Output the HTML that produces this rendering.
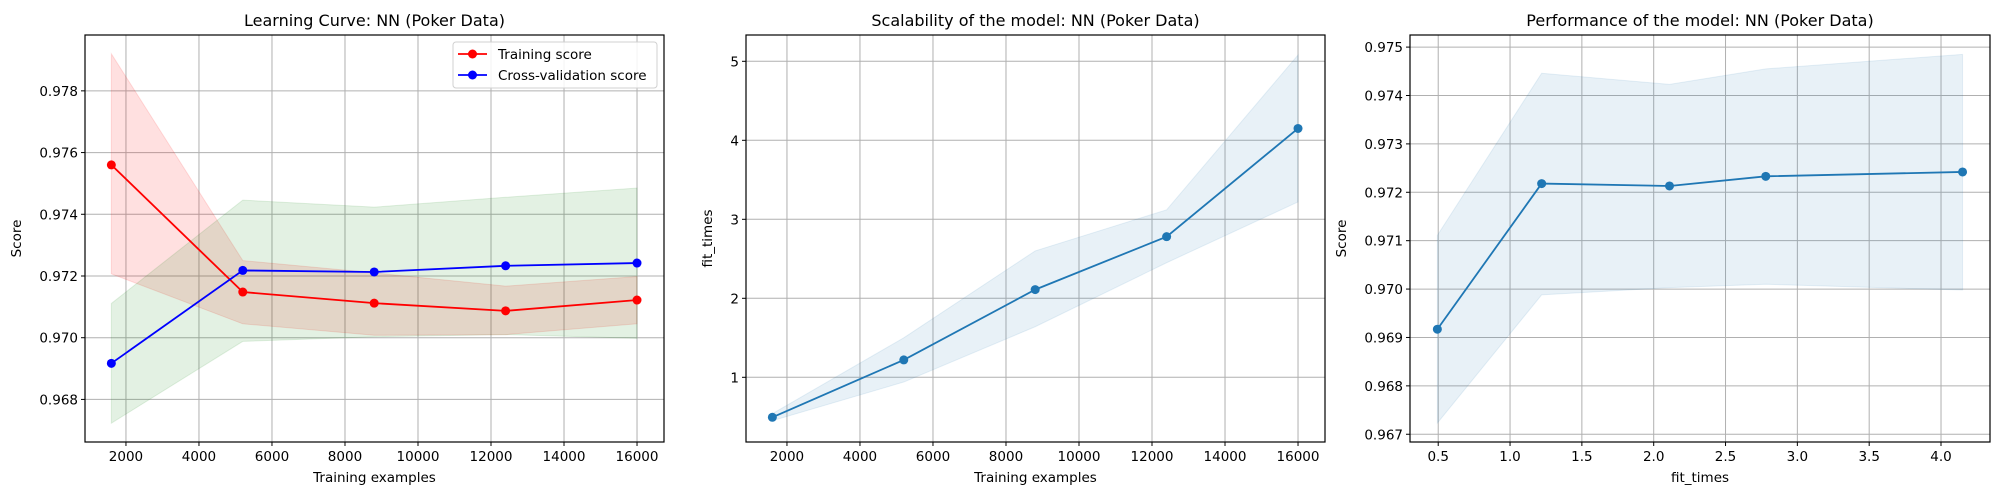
<!DOCTYPE html>
<html><head><meta charset="utf-8"><style>
html,body{margin:0;padding:0;background:#fff;}
svg{display:block;font-family:"DejaVu Sans","Liberation Sans",sans-serif;}
</style></head><body>
<svg id="fig" width="2000" height="500" viewBox="0 0 2000 500" xmlns="http://www.w3.org/2000/svg"></svg>
<script>
const trainSizes=[1600,5200,8800,12400,16000];
const trainMean=[0.97560,0.97148,0.97112,0.97087,0.97122];
const trainUpper=[0.97920,0.97250,0.97210,0.97167,0.97198];
const trainLower=[0.97207,0.97045,0.97008,0.97010,0.97045];
const cvMean=[0.96917,0.97218,0.97213,0.97233,0.97242];
const cvUpper=[0.97111,0.97446,0.97423,0.97455,0.97485];
const cvLower=[0.96723,0.96988,0.97003,0.97010,0.96998];
const fitMean=[0.494,1.22,2.11,2.78,4.15];
const fitUpper=[0.54,1.50,2.60,3.12,5.08];
const fitLower=[0.45,0.94,1.64,2.45,3.22];
const xTicksN=[2000,4000,6000,8000,10000,12000,14000,16000];
const yTicks1=[0.968,0.970,0.972,0.974,0.976,0.978];
const yTicks2=[1,2,3,4,5];
const yTicks3=[0.967,0.968,0.969,0.970,0.971,0.972,0.973,0.974,0.975];
const xTicks3=[0.5,1.0,1.5,2.0,2.5,3.0,3.5,4.0];

const NS="http://www.w3.org/2000/svg";
const fig=document.getElementById('fig');
function mk(tag,attrs,parent,text){const e=document.createElementNS(NS,tag);for(const k in attrs)e.setAttribute(k,attrs[k]);if(text!==undefined)e.textContent=text;(parent||fig).appendChild(e);return e;}

function panel(o){
  const g=mk('g',{});
  
  
  const L=o.L,R=o.R,T=35,B=442;
  const sx=v=>L+(v-o.x0)/(o.x1-o.x0)*(R-L);
  const sy=v=>B-(v-o.y0)/(o.y1-o.y0)*(B-T);
  // grid
  o.xt.forEach((t,i)=>{const x=sx(t);
    const gl=mk('line',{x1:x,x2:x,y1:T,y2:B,stroke:'#b0b0b0','stroke-width':1},g);
    
    mk('line',{x1:x,x2:x,y1:B,y2:B+4,stroke:'#000','stroke-width':1},g);
    const tl=mk('text',{x:x,y:B+19,'text-anchor':'middle','font-size':13.5,fill:'#000'},g,o.xfmt(t));
    
  });
  o.yt.forEach(t=>{const y=sy(t);
    const gl=mk('line',{x1:L,x2:R,y1:y,y2:y,stroke:'#b0b0b0','stroke-width':1},g);
    
    mk('line',{x1:L-4,x2:L,y1:y,y2:y,stroke:'#000','stroke-width':1},g);
    const tl=mk('text',{x:L-7,y:y+5,'text-anchor':'end','font-size':13.5,fill:'#000'},g,o.yfmt(t));
    
  });
  o.series.forEach(s=>{
    let pts=s.x.map((v,i)=>sx(v)+','+sy(s.up[i])).concat(s.x.map((v,i)=>sx(v)+','+sy(s.lo[i])).reverse());
    const band=mk('polygon',{points:pts.join(' '),fill:s.fill,'fill-opacity':s.alpha,stroke:s.fill,'stroke-opacity':s.alpha},g);
    
  });
  o.series.forEach(s=>{
    const ln=mk('polyline',{points:s.x.map((v,i)=>sx(v)+','+sy(s.y[i])).join(' '),fill:'none',stroke:s.color,'stroke-width':1.8},g);
    
    s.x.forEach((v,i)=>{const c=mk('circle',{cx:sx(v),cy:sy(s.y[i]),r:4.5,fill:s.color},g);
      });
  });
  const fr=mk('rect',{x:L,y:T,width:R-L,height:B-T,fill:'none',stroke:'#000','stroke-width':1.2},g);
  
  const ti=mk('text',{x:(L+R)/2,y:26,'text-anchor':'middle','font-size':16,fill:'#000'},g,o.title);
  
  const xl=mk('text',{x:(L+R)/2,y:482,'text-anchor':'middle','font-size':13.5,fill:'#000'},g,o.xlabel);
  
  const yl=mk('text',{x:o.ylx,y:(T+B)/2,'text-anchor':'middle','font-size':13.5,fill:'#000',transform:`rotate(-90 ${o.ylx} ${(T+B)/2})`},g,o.ylabel);
  
  return g;
}

panel({name:'learning-curve-chart',L:85,R:664,x0:878,x1:16739,y0:0.96662,y1:0.97981,xt:xTicksN,yt:yTicks1,
  xfmt:t=>String(t),yfmt:t=>t.toFixed(3),title:'Learning Curve: NN (Poker Data)',xlabel:'Training examples',ylabel:'Score',ylx:21,
  series:[
    {name:'training-score',x:trainSizes,y:trainMean,up:trainUpper,lo:trainLower,color:'#ff0000',fill:'#ff0000',alpha:0.12},
    {name:'cv-score',x:trainSizes,y:cvMean,up:cvUpper,lo:cvLower,color:'#0000ff',fill:'#008000',alpha:0.11}]});
// fix draw order: red band drawn first then green; matches reference (brownish overlap)

panel({name:'scalability-chart',L:746,R:1325,x0:878,x1:16739,y0:0.181,y1:5.333,xt:xTicksN,yt:yTicks2,
  xfmt:t=>String(t),yfmt:t=>String(t),title:'Scalability of the model: NN (Poker Data)',xlabel:'Training examples',ylabel:'fit_times',ylx:712,
  series:[{name:'fit-times',x:trainSizes,y:fitMean,up:fitUpper,lo:fitLower,color:'#1f77b4',fill:'#1f77b4',alpha:0.1}]});

panel({name:'performance-chart',L:1410,R:1990,x0:0.3036,x1:4.341,y0:0.96684,y1:0.97525,xt:xTicks3,yt:yTicks3,
  xfmt:t=>t.toFixed(1),yfmt:t=>t.toFixed(3),title:'Performance of the model: NN (Poker Data)',xlabel:'fit_times',ylabel:'Score',ylx:1346,
  series:[{name:'performance-score',x:fitMean,y:cvMean,up:cvUpper,lo:cvLower,color:'#1f77b4',fill:'#1f77b4',alpha:0.1}]});

// legend
const lg=mk('g',{});


mk('rect',{x:453,y:42,width:204,height:46,rx:3,fill:'#fff','fill-opacity':0.85,stroke:'#d0d0d0'},lg);
[['Training score','#ff0000',54],['Cross-validation score','#0000ff',75]].forEach(([t,c,y])=>{
  const e=mk('g',{},lg);
  
  
  mk('line',{x1:458,x2:487,y1:y,y2:y,stroke:c,'stroke-width':1.8},e);
  mk('circle',{cx:472.5,cy:y,r:4.5,fill:c},e);
  mk('text',{x:498,y:y+5,'font-size':13.5,fill:'#000'},e,t);
});
</script>
</body></html>
